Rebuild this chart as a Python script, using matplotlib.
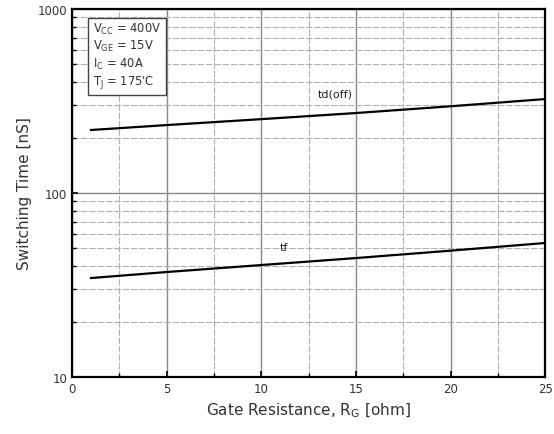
import matplotlib
matplotlib.use("Agg")
import matplotlib.pyplot as plt
import numpy as np

rg = [1, 5, 10, 15, 20, 25]
td_off = [220, 234, 252, 272, 296, 324]
tf = [34.5, 37.2, 40.6, 44.3, 48.6, 53.5]

fig = plt.figure(figsize=(5.54, 4.35), dpi=100)
ax = fig.add_axes([0.130, 0.131, 0.854, 0.846])
ax.set_yscale('log')
ax.set_xlim(0, 25)
ax.set_ylim(10, 1000)

ax.plot(rg, td_off, color='black', lw=1.6)
ax.plot(rg, tf, color='black', lw=1.6)

ax.set_xticks([0, 5, 10, 15, 20, 25])
ax.set_xticks([2.5, 7.5, 12.5, 17.5, 22.5], minor=True)
ax.set_yticks([10, 100, 1000])
ax.set_yticklabels(['10', '100', '1000'])
ax.yaxis.set_minor_locator(matplotlib.ticker.LogLocator(base=10, subs=np.arange(2, 10)))
ax.yaxis.set_minor_formatter(matplotlib.ticker.NullFormatter())

ax.grid(which='major', color='#888888', lw=1.0)
ax.grid(which='minor', color='#b0b0b0', lw=0.8, ls=(0, (6, 1.5)))
ax.tick_params(which='both', direction='in', labelsize=8.5, colors='black', labelcolor='#333333')
ax.tick_params(which='major', length=4, width=1.2)
ax.tick_params(which='minor', length=3, width=1.0)
for s in ax.spines.values():
    s.set_linewidth(1.6)

ax.set_xlabel('Gate Resistance, R$_\\mathregular{G}$ [ohm]', fontsize=11, color='#333333')
ax.set_ylabel('Switching Time [nS]', fontsize=11, color='#333333')

ax.text(13.0, 335, 'td(off)', fontsize=8, color='#222222')
ax.text(11.0, 49, 'tf', fontsize=8, color='#222222')

box = ('V$_\\mathregular{CC}$ = 400V\nV$_\\mathregular{GE}$ = 15V\n'
       'I$_\\mathregular{C}$ = 40A\nT$_\\mathregular{J}$ = 175\'C')
ax.text(1.1, 860, box, fontsize=8.3, color='#333333', va='top', linespacing=1.2,
        bbox=dict(boxstyle='square,pad=0.45', fc='white', ec='#444444', lw=1.0))

fig.savefig('out.png', dpi=100)
